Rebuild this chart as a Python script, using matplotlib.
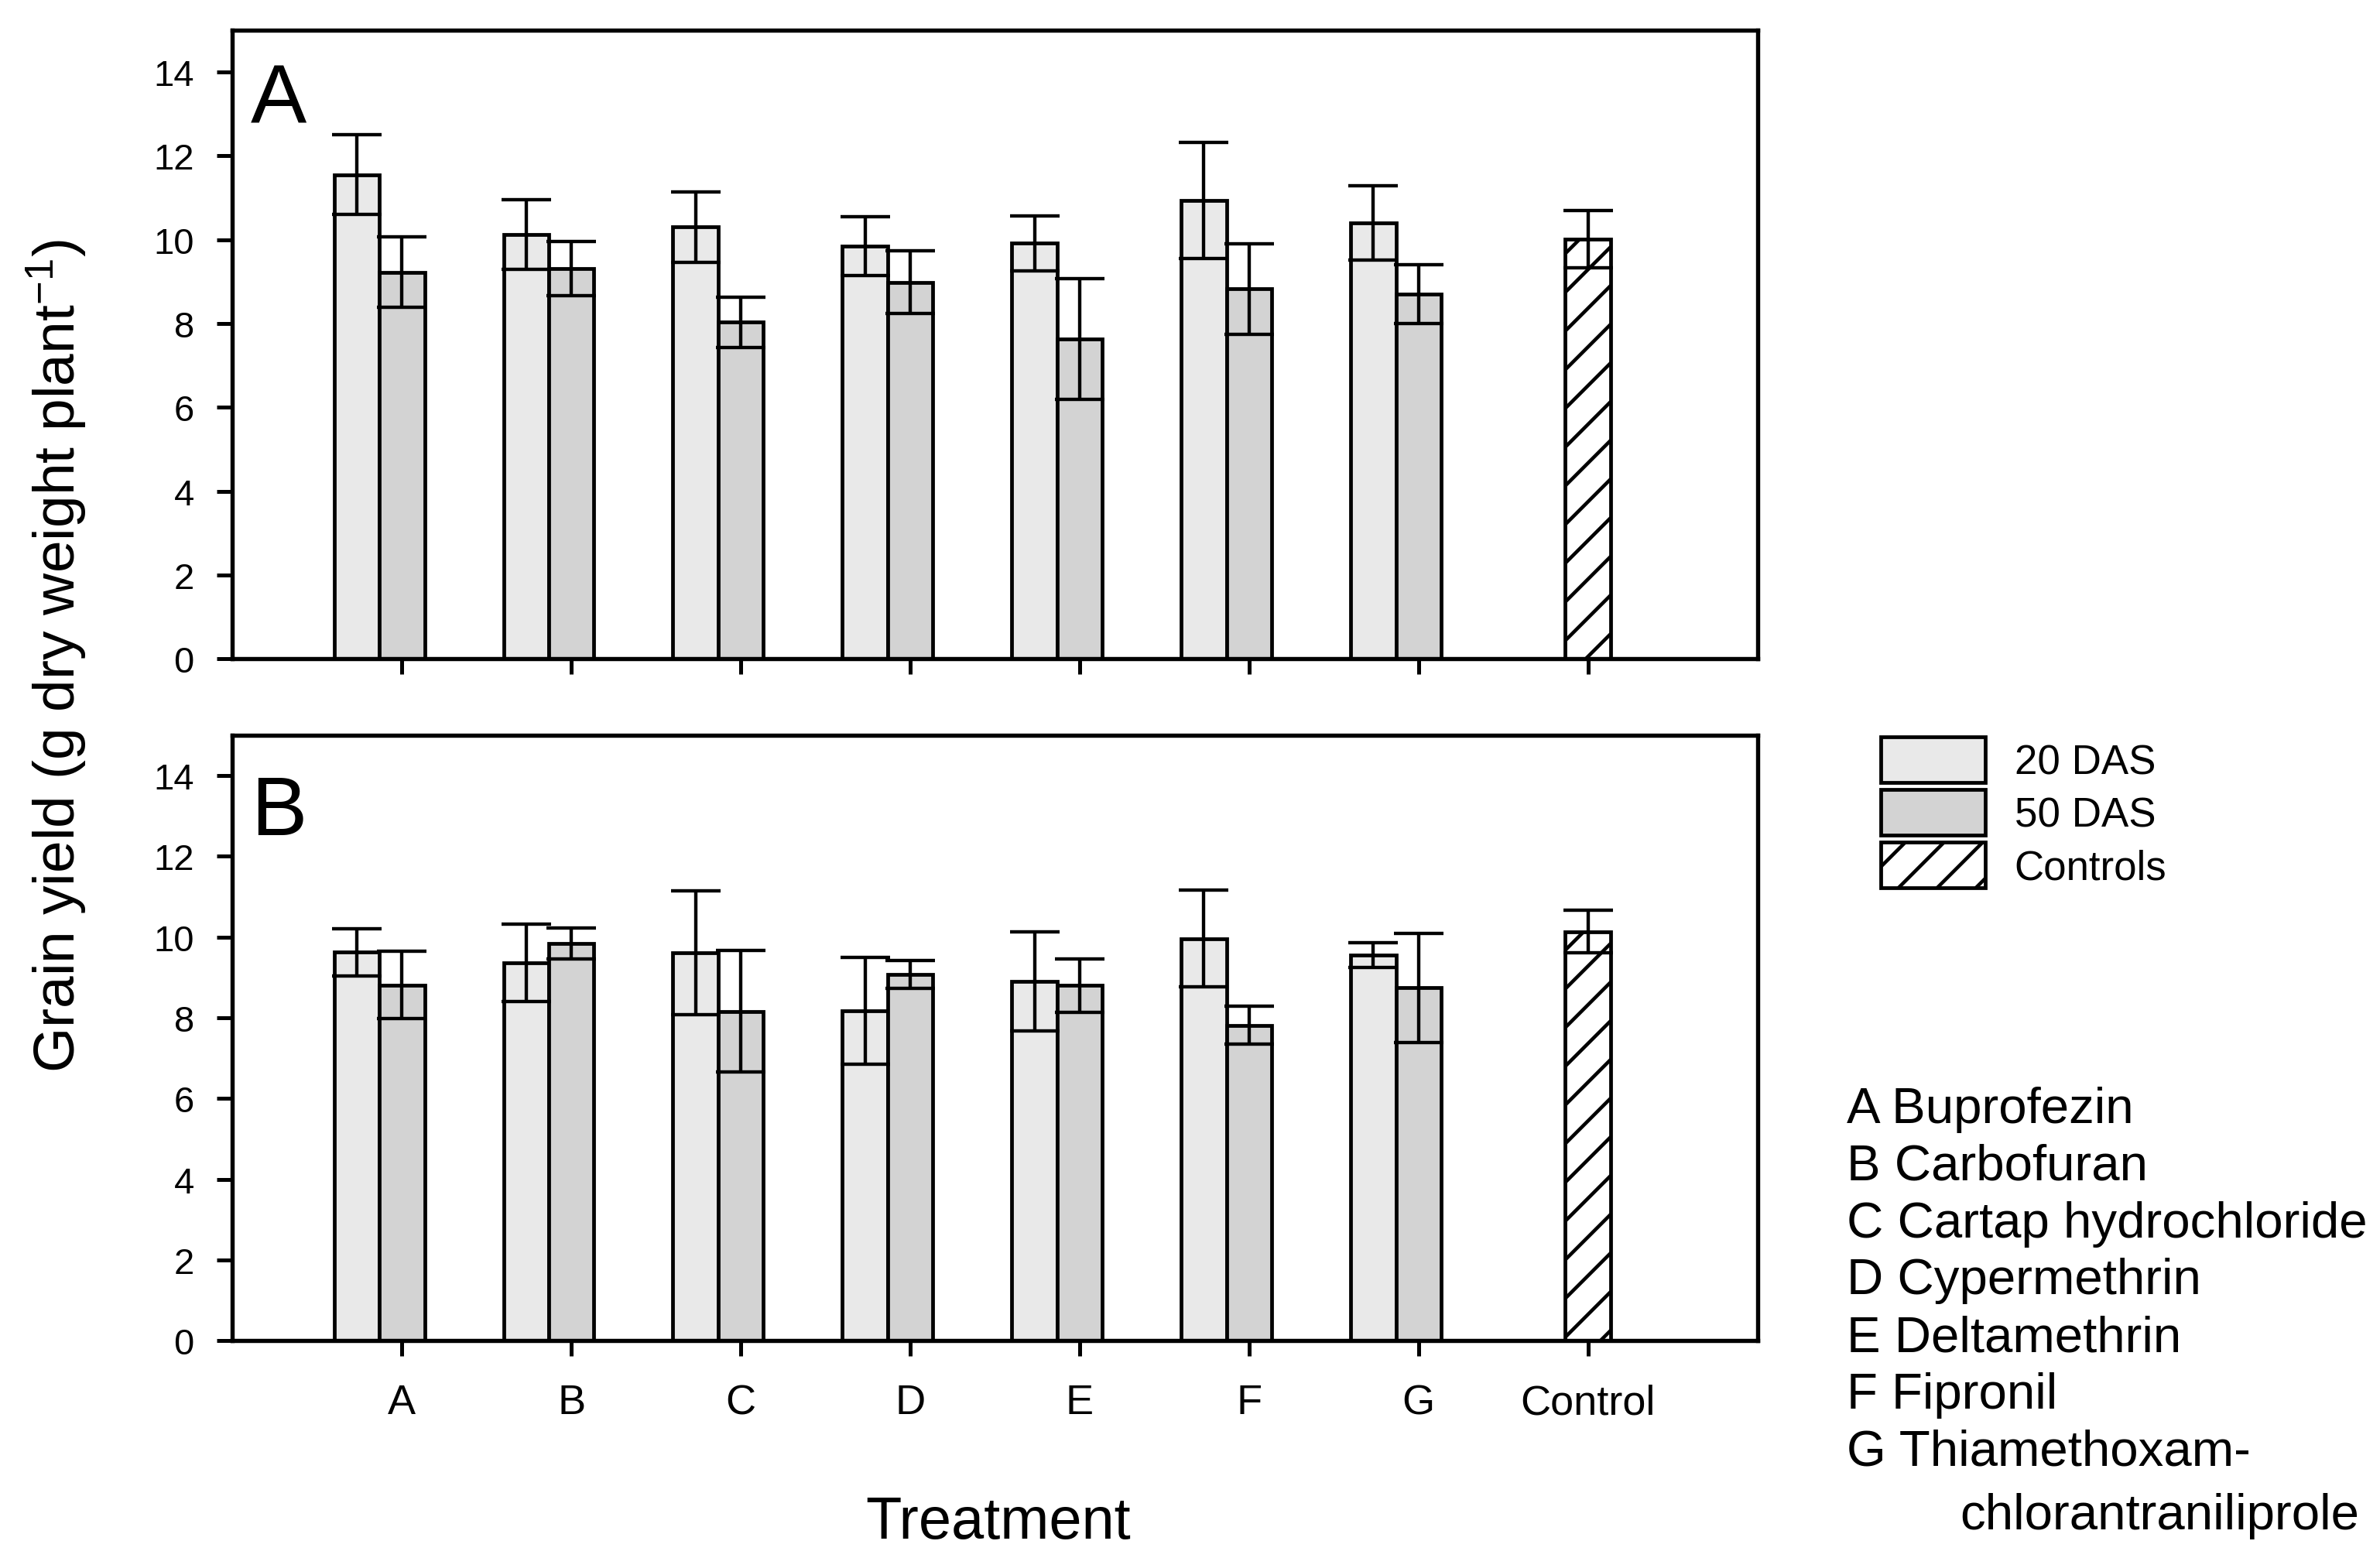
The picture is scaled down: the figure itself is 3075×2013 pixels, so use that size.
import matplotlib.pyplot as plt
import numpy as np

plt.rcParams["font.family"] = ["Liberation Sans", "DejaVu Sans"]
plt.rcParams["mathtext.fontset"] = "custom"
plt.rcParams["mathtext.rm"] = "Liberation Sans"
plt.rcParams["mathtext.default"] = "regular"
plt.rcParams["hatch.linewidth"] = 1.1
plt.rcParams["hatch.color"] = "black"

# data
treatments = ["A", "B", "C", "D", "E", "F", "G"]
tick_labels = treatments + ["Control"]
legend_labels = ["20 DAS", "50 DAS", "Controls"]
treatment_names = [
    "A Buprofezin",
    "B Carbofuran",
    "C Cartap hydrochloride",
    "D Cypermethrin",
    "E Deltamethrin",
    "F Fipronil",
    "G Thiamethoxam-",
]
name_cont = "chlorantraniliprole"

# panel A
mean20_a = [11.55, 10.12, 10.30, 9.84, 9.91, 10.93, 10.40]
se20_a = [0.95, 0.83, 0.84, 0.70, 0.66, 1.38, 0.88]
mean50_a = [9.22, 9.31, 8.03, 8.98, 7.63, 8.82, 8.70]
se50_a = [0.84, 0.65, 0.60, 0.75, 1.44, 1.08, 0.70]
ctrl_a = 10.01
ctrl_se_a = 0.68

# panel B
mean20_b = [9.62, 9.36, 9.61, 8.17, 8.90, 9.96, 9.55]
se20_b = [0.58, 0.95, 1.53, 1.33, 1.22, 1.20, 0.31]
mean50_b = [8.81, 9.84, 8.16, 9.07, 8.80, 7.81, 8.74]
se50_b = [0.84, 0.38, 1.50, 0.34, 0.66, 0.47, 1.35]
ctrl_b = 10.13
ctrl_se_b = 0.53

LIGHT = "#e9e9e9"
DARK = "#d3d3d3"
W = 0.267
W_PX, H_PX = 3075, 2014


def draw_panel(ax, m20, e20, m50, e50, ctrl, ctrl_se, letter, letter_y, show_labels):
    x = np.arange(1, len(m20) + 1)
    xc = len(m20) + 1
    b20 = ax.bar(x - W, m20, W, color=LIGHT, edgecolor="black", linewidth=1.15)
    b50 = ax.bar(x, m50, W, color=DARK, edgecolor="black", linewidth=1.15)
    bc = ax.bar([xc], [ctrl], W, color="white", edgecolor="black", hatch="//", linewidth=1.15)
    err_kw = dict(fmt="none", ecolor="black", elinewidth=1.05, capsize=7.7, capthick=1.05)
    ax.errorbar(x - W, m20, yerr=e20, **err_kw)
    ax.errorbar(x, m50, yerr=e50, **err_kw)
    ax.errorbar([xc], [ctrl], yerr=[ctrl_se], **err_kw)

    ax.set_xlim(0, 9)
    ax.set_ylim(0, 15)
    ax.set_yticks(np.arange(0, 15, 2))
    ax.set_xticks(np.arange(1, xc + 1))
    if show_labels:
        ax.set_xticklabels(tick_labels)
    else:
        ax.set_xticklabels([])
    ax.tick_params(axis="both", direction="out", length=4.9, width=1.2)
    ax.tick_params(axis="y", labelsize=11.3, pad=7)
    ax.tick_params(axis="x", labelsize=13, pad=8.2)
    for sp in ax.spines.values():
        sp.set_linewidth(1.3)
    ax.text(0.012, letter_y, letter, transform=ax.transAxes, fontsize=26, va="baseline")
    return b20, b50, bc


fig = plt.figure(figsize=(W_PX / 300, H_PX / 300), dpi=300)
ax_top = fig.add_axes([0.0977, 0.5768, 0.6407, 0.4035])
ax_bot = fig.add_axes([0.0977, 0.1393, 0.6407, 0.3887])

draw_panel(ax_top, mean20_a, se20_a, mean50_a, se50_a, ctrl_a, ctrl_se_a, "A", 0.853, False)
handles = draw_panel(ax_bot, mean20_b, se20_b, mean50_b, se50_b, ctrl_b, ctrl_se_b, "B", 0.8365, True)

fig.text(0.0237, 0.579, "Grain yield (g dry weight plant$^{-1}$)",
         rotation=90, ha="center", va="center", fontsize=18)
fig.text(1290 / W_PX, 1 - 1988 / H_PX, "Treatment", ha="center", va="baseline", fontsize=18.2)

fig.legend(handles=list(handles), labels=legend_labels, loc="upper left",
           bbox_to_anchor=(2429.5 / W_PX, 1 - 953 / H_PX), frameon=False,
           fontsize=12.7, handlelength=2.57, handleheight=1.34, handletextpad=0.7,
           labelspacing=0.17, borderpad=0, borderaxespad=0)

for i, name in enumerate(treatment_names):
    fig.text(2386 / W_PX, 1 - (1451 + 73.8 * i) / H_PX, name, fontsize=15.7, va="baseline")
fig.text(2532 / W_PX, 1 - 1976 / H_PX, name_cont, fontsize=15.7, va="baseline")

fig.savefig("out.png", dpi=300)
plt.close(fig)
